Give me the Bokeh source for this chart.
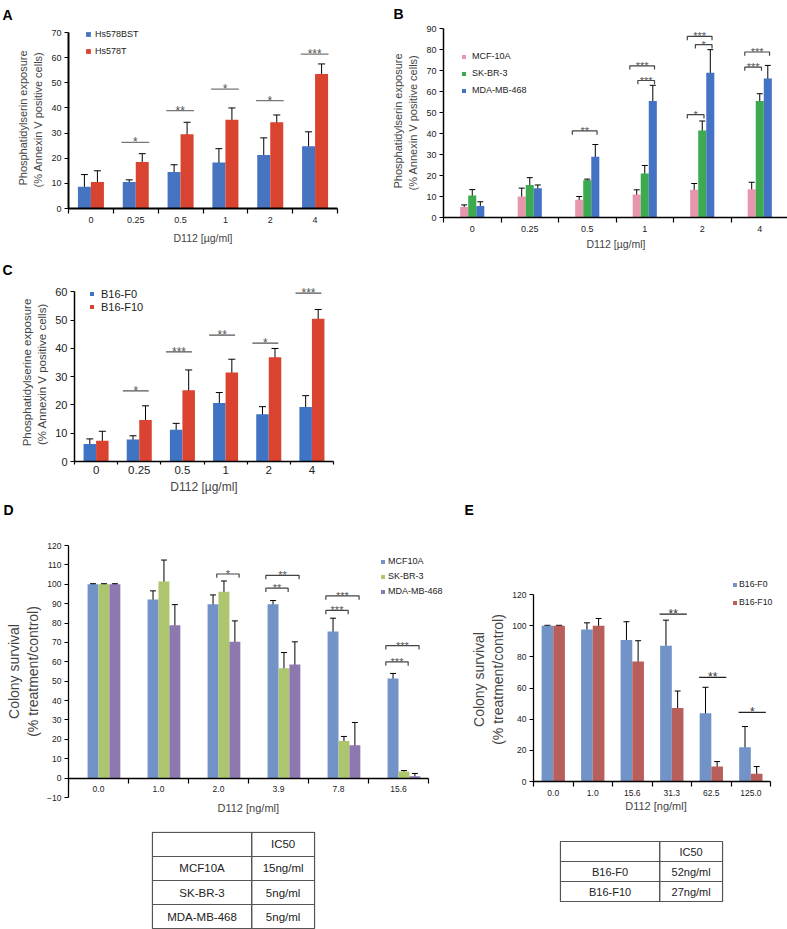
from bokeh.plotting import figure
from bokeh.models import (Range1d, FixedTicker, Whisker, TeeHead, ColumnDataSource,
                          Legend, LegendItem, Title)
from bokeh.layouts import column, row
from bokeh.embed import file_html
from bokeh.resources import INLINE
from bokeh.core.properties import value

FONT = "Liberation Sans"

# ---------------- data: panel A ----------------
a_doses = ["0", "0.25", "0.5", "1", "2", "4"]
a_names = ["Hs578BST", "Hs578T"]
a_hs578bst = [8.7, 10.5, 14.5, 18.3, 21.3, 24.8]
a_hs578bst_err = [4.8, 0.9, 2.9, 5.5, 6.8, 5.7]
a_hs578t = [10.5, 18.5, 29.5, 35.3, 34.3, 53.5]
a_hs578t_err = [4.5, 3.3, 4.8, 4.7, 2.9, 4.0]
a_sig_group = [1, 2, 3, 4, 5]
a_sig_text = ["*", "**", "*", "*", "***"]
a_sig_y = [26.3, 38.9, 47.5, 42.9, 61.4]

# ---------------- data: panel B ----------------
b_doses = ["0", "0.25", "0.5", "1", "2", "4"]
b_names = ["MCF-10A", "SK-BR-3", "MDA-MB-468"]
b_mcf10a = [5.0, 10.0, 8.5, 11.0, 13.2, 13.5]
b_mcf10a_err = [1.0, 4.0, 1.5, 2.2, 3.0, 3.3]
b_skbr3 = [10.5, 15.5, 17.8, 21.0, 41.5, 55.5]
b_skbr3_err = [2.8, 3.5, 0.5, 3.8, 4.5, 3.5]
b_mdamb468 = [5.5, 14.0, 29.0, 55.5, 69.0, 66.3]
b_mdamb468_err = [2.0, 1.5, 5.8, 7.5, 11.0, 6.2]
b_sig_group = [2, 3, 3, 4, 4, 4, 5, 5]
b_sig_from = [0, 0, 1, 0, 1, 0, 0, 0]
b_sig_to = [2, 2, 2, 2, 2, 1, 2, 1]
b_sig_text = ["**", "***", "***", "***", "*", "*", "***", "***"]
b_sig_y = [41.3, 72.3, 65.3, 86.3, 82.4, 49.0, 78.9, 71.7]

# ---------------- data: panel C ----------------
c_doses = ["0", "0.25", "0.5", "1", "2", "4"]
c_names = ["B16-F0", "B16-F10"]
c_f0 = [6.2, 7.8, 11.2, 20.7, 16.7, 19.3]
c_f0_err = [1.8, 1.3, 2.3, 3.7, 2.7, 4.0]
c_f10 = [7.3, 14.7, 25.2, 31.5, 36.9, 50.5]
c_f10_err = [3.4, 5.0, 7.2, 4.7, 3.1, 3.3]
c_sig_group = [1, 2, 3, 4, 5]
c_sig_text = ["*", "***", "**", "*", "***"]
c_sig_y = [25.0, 38.8, 44.7, 41.9, 59.6]

# ---------------- data: panel D ----------------
d_doses = ["0.0", "1.0", "2.0", "3.9", "7.8", "15.6"]
d_names = ["MCF10A", "SK-BR-3", "MDA-MB-468"]
d_mcf10a = [100, 92.1, 89.7, 89.7, 75.6, 51.4]
d_mcf10a_lo = [99.7, 87.6, 84.7, 87.6, 68.2, 48.8]
d_mcf10a_hi = [100.3, 96.6, 94.5, 91.6, 82.5, 54.0]
d_skbr3 = [100, 101.4, 96.2, 56.7, 19.2, 3.4]
d_skbr3_lo = [99.7, 90.2, 91.1, 48.5, 17.0, 2.7]
d_skbr3_hi = [100.3, 112.5, 101.7, 64.8, 21.5, 3.9]
d_mdamb468 = [100, 78.9, 70.3, 58.6, 17.0, 0.9]
d_mdamb468_lo = [99.7, 68.2, 59.1, 47.1, 5.5, -0.2]
d_mdamb468_hi = [100.3, 89.5, 81.1, 70.3, 28.7, 2.4]
d_sig_group = [2, 3, 3, 4, 4, 5, 5]
d_sig_from = [1, 0, 0, 0, 0, 0, 0]
d_sig_to = [2, 2, 1, 2, 1, 2, 1]
d_sig_text = ["*", "**", "**", "***", "***", "***", "***"]
d_sig_y = [105.3, 104.6, 98.0, 94.0, 86.5, 68.3, 60.0]
d_table_cells = ["MCF10A", "SK-BR-3", "MDA-MB-468"]
d_table_ic50 = ["15ng/ml", "5ng/ml", "5ng/ml"]

# ---------------- data: panel E ----------------
e_doses = ["0.0", "1.0", "15.6", "31.3", "62.5", "125.0"]
e_names = ["B16-F0", "B16-F10"]
e_f0 = [100, 97.6, 90.8, 87.2, 43.8, 22.0]
e_f0_lo = [99.7, 92.5, 78.4, 76.3, 41.7, 18.2]
e_f0_hi = [100.3, 101.9, 102.6, 103.6, 60.5, 35.3]
e_f10 = [100, 100, 77.1, 47.2, 9.6, 4.9]
e_f10_lo = [99.7, 95.1, 64.7, 36.1, 6.4, 0.6]
e_f10_hi = [100.3, 104.7, 90.4, 58.1, 12.8, 9.6]
e_sig_group = [3, 4, 5]
e_sig_text = ["**", "**", "*"]
e_sig_y = [107.5, 66.9, 44.4]
e_table_cells = ["B16-F0", "B16-F10"]
e_table_ic50 = ["52ng/ml", "27ng/ml"]


# ---------------- helpers ----------------
def make_fig(n, yr, fw, fh, left, top, right, bottom, xmax=None):
    p = figure(frame_width=fw, frame_height=fh,
               min_border_left=left, min_border_top=top,
               min_border_right=right, min_border_bottom=bottom,
               x_range=Range1d(-0.5, (n - 0.5) if xmax is None else xmax),
               y_range=Range1d(*yr),
               output_backend="svg", toolbar_location=None, tools="")
    p.outline_line_color = None
    p.xgrid.visible = False
    p.ygrid.visible = False
    return p


def style_axes(p, doses, yticks, tick_fs, xtick_fs, axw, xlabel, xlab_fs, ylab1, ylab2, ylab_fs,
               xtick_out=5, xlabel_standoff=6, ylab_standoff=4, title_standoff=2,
               fixed_x=None, xlab_standoff_ticks=3):
    n = len(doses)
    xa = p.xaxis[0]
    xa.ticker = FixedTicker(ticks=list(range(n)), minor_ticks=[i - 0.5 for i in range(n + 1)])
    xa.major_label_overrides = {i: d for i, d in enumerate(doses)}
    xa.bounds = (-0.5, n - 0.5)
    xa.major_tick_line_color = None
    xa.major_tick_in = 0
    xa.major_tick_out = xtick_out
    xa.minor_tick_in = 0
    xa.minor_tick_out = xtick_out
    xa.minor_tick_line_color = "black"
    xa.minor_tick_line_width = 1.2
    xa.axis_line_width = axw
    xa.axis_line_color = "black"
    xa.major_label_text_font = FONT
    xa.major_label_text_font_size = xtick_fs
    xa.major_label_text_color = "#222222"
    xa.major_label_standoff = xlab_standoff_ticks
    if xlabel is not None:
        xa.axis_label = xlabel
        xa.axis_label_text_font = FONT
        xa.axis_label_text_font_size = xlab_fs
        xa.axis_label_text_font_style = "normal"
        xa.axis_label_standoff = xlabel_standoff
    if fixed_x is not None:
        xa.fixed_location = fixed_x

    ya = p.yaxis[0]
    ya.ticker = FixedTicker(ticks=yticks)
    ya.bounds = (yticks[0], yticks[-1])
    ya.minor_tick_line_color = None
    ya.major_tick_in = 0
    ya.major_tick_out = 4
    ya.major_tick_line_width = 1
    ya.axis_line_width = axw
    ya.axis_line_color = "black"
    ya.major_label_text_font = FONT
    ya.major_label_text_font_size = tick_fs
    ya.major_label_text_color = "#222222"
    ya.major_label_standoff = 3
    ya.axis_label = ylab2
    ya.axis_label_text_font = FONT
    ya.axis_label_text_font_size = ylab_fs
    ya.axis_label_text_font_style = "normal"
    ya.axis_label_standoff = ylab_standoff
    p.add_layout(Title(text=ylab1, align="center", text_font=FONT, text_font_size=ylab_fs,
                       text_font_style="normal", standoff=title_standoff), "left")


def add_bars(p, series, colors, offsets, width):
    rs = []
    for vals, col, off in zip(series, colors, offsets):
        src = ColumnDataSource(dict(x=[i + off for i in range(len(vals))], top=vals))
        rs.append(p.vbar(x="x", top="top", width=width, bottom=0, source=src,
                         fill_color=col, line_color=None))
    return rs


def add_err(p, offsets, lows, highs, cap):
    for off, lo, hi in zip(offsets, lows, highs):
        src = ColumnDataSource(dict(base=[i + off for i in range(len(lo))], lower=lo, upper=hi))
        p.add_layout(Whisker(base="base", lower="lower", upper="upper", source=src,
                             line_color="black", line_width=1,
                             upper_head=TeeHead(size=cap, line_color="black", line_width=1),
                             lower_head=TeeHead(size=cap, line_color="black", line_width=1)))


def add_lines(p, groups, texts, ys, x0off, x1off, color, fs, star_color):
    x0 = [g + x0off for g in groups]
    x1 = [g + x1off for g in groups]
    p.segment(x0=x0, y0=ys, x1=x1, y1=ys, line_color=color, line_width=1.2)
    p.text(x=[(a + b) / 2 for a, b in zip(x0, x1)], y=ys, text=texts, text_align="center",
           text_baseline="alphabetic", text_font=value(FONT), text_font_size=fs,
           text_color=star_color, y_offset=0)


def add_brackets(p, groups, frm, to, texts, ys, centers, lpad, rpad, drop, color, fs, star_color):
    xs, yss, mx = [], [], []
    for g, i, j, y in zip(groups, frm, to, ys):
        a = g + centers[i] - lpad
        b = g + centers[j] + rpad
        xs.append([a, a, b, b])
        yss.append([y - drop, y, y, y - drop])
        mx.append((a + b) / 2)
    p.multi_line(xs=xs, ys=yss, line_color=color, line_width=1.2)
    p.text(x=mx, y=ys, text=texts, text_align="center", text_baseline="alphabetic",
           text_font=value(FONT), text_font_size=fs, text_color=star_color, y_offset=0)


def add_legend(p, renderers, names, loc, fs, glyph, label_h, spacing, standoff):
    leg = Legend(items=[LegendItem(label=nm, renderers=[r]) for nm, r in zip(names, renderers)],
                 location=loc, label_text_font=FONT, label_text_font_size=fs,
                 label_text_color="#222222", glyph_width=glyph, glyph_height=glyph,
                 label_height=label_h, spacing=spacing, padding=0, margin=0,
                 label_standoff=standoff, border_line_color=None, background_fill_alpha=0)
    p.add_layout(leg)


def panel_letter(p, txt, offset, standoff):
    p.title.text = txt
    p.title.align = "left"
    p.title.vertical_align = "bottom"
    p.title.offset = offset
    p.title.standoff = standoff
    p.title.text_font = FONT
    p.title.text_font_size = "14px"
    p.title.text_font_style = "bold"
    p.title.text_color = "black"


def letter_holder(txt, left, right, top, offset):
    # an empty, axis-less strip whose only content is a panel letter
    p = figure(frame_width=1, frame_height=1, min_border_left=left, min_border_right=right,
               min_border_top=top, min_border_bottom=0,
               output_backend="svg", toolbar_location=None, tools="")
    p.axis.visible = False
    p.xgrid.visible = False
    p.ygrid.visible = False
    p.outline_line_color = None
    panel_letter(p, txt, offset, 0)
    return p


def make_table(names, vals, fw, fh, left, right, fs, pad):
    n = len(names) + 1
    p = figure(frame_width=fw, frame_height=fh, min_border_left=left, min_border_right=right,
               min_border_top=0, min_border_bottom=0,
               x_range=Range1d(-0.012, 1.012), y_range=Range1d(-pad, n + pad),
               output_backend="svg", toolbar_location=None, tools="")
    p.xaxis.visible = False
    p.yaxis.visible = False
    p.xgrid.visible = False
    p.ygrid.visible = False
    p.outline_line_color = None
    split = 0.612
    cx, cy, cw = [], [], []
    for r in range(n):
        yc = n - r - 0.5
        cx += [split / 2, (1 + split) / 2]
        cy += [yc, yc]
        cw += [split, 1 - split]
    p.rect(x=cx, y=cy, width=cw, height=1, fill_color=None, line_color="#555555", line_width=1.2)
    tx = [(1 + split) / 2] + [split / 2] * len(names) + [(1 + split) / 2] * len(vals)
    ty = [n - 0.5] + [n - r - 1.5 for r in range(len(names))] + [n - r - 1.5 for r in range(len(vals))]
    tt = ["IC50"] + names + vals
    p.text(x=tx, y=ty, text=tt, text_align="center", text_baseline="middle",
           text_font=value(FONT), text_font_size=fs, text_color="#222222")
    return p


YLAB_A1 = "Phosphatidylserin exposure"
YLAB_A2 = "(% Annexin V  positive cells)"

# ---------------- Panel A ----------------
pa = make_fig(6, (0, 72), 269, 181, 68, 26, 51, 45)
style_axes(pa, a_doses, list(range(0, 71, 10)), "9px", "9px", 2, "D112 [µg/ml]", "10.5px",
           YLAB_A1, YLAB_A2, "11px")
a_off = [-0.145, 0.145]
ra = add_bars(pa, [a_hs578bst, a_hs578t], ["#4774c0", "#d94430"], a_off, 0.29)
add_err(pa, a_off,
        [[v - e for v, e in zip(a_hs578bst, a_hs578bst_err)], [v - e for v, e in zip(a_hs578t, a_hs578t_err)]],
        [[v + e for v, e in zip(a_hs578bst, a_hs578bst_err)], [v + e for v, e in zip(a_hs578t, a_hs578t_err)]],
        7)
add_lines(pa, a_sig_group, a_sig_text, a_sig_y, -0.32, 0.30, "#777777", "12px", "#555555")
add_legend(pa, ra, a_names, (17, 151), "9px", 6, 12, 5, 4)
panel_letter(pa, "A", -66, 9)

# ---------------- Panel B ----------------
pb = make_fig(6, (0, 92), 345, 193, 52, 23, 2, 36)
style_axes(pb, b_doses, list(range(0, 91, 10)), "9px", "9px", 1.5, "D112 [µg/ml]", "10.5px",
           YLAB_A1, YLAB_A2, "11px", xtick_out=5, xlabel_standoff=3)
b_off = [-0.14, 0.0, 0.14]
rb = add_bars(pb, [b_mcf10a, b_skbr3, b_mdamb468], ["#e797ad", "#3daa4f", "#4472c4"], b_off, 0.14)
b_ser = [(b_mcf10a, b_mcf10a_err), (b_skbr3, b_skbr3_err), (b_mdamb468, b_mdamb468_err)]
add_err(pb, b_off,
        [[v - e for v, e in zip(s, er)] for s, er in b_ser],
        [[v + e for v, e in zip(s, er)] for s, er in b_ser], 6)
add_brackets(pb, b_sig_group, b_sig_from, b_sig_to, b_sig_text, b_sig_y, b_off, 0.12, 0.03, 1.8,
             "#444444", "11px", "#555555")
add_legend(pb, rb, b_names, (18, 121), "9px", 5, 12, 5, 6)
panel_letter(pb, "B", -50, 6)

# ---------------- Panel C ----------------
pc = make_fig(6, (0, 63), 259, 178, 74, 29, 55, 36)
style_axes(pc, c_doses, list(range(0, 61, 10)), "11px", "11.5px", 1.5, "D112 [µg/ml]", "12px",
           "Phosphatidylserine exposure", YLAB_A2, "11.5px", xtick_out=3, xlabel_standoff=3,
           xlab_standoff_ticks=1)
c_off = [-0.145, 0.145]
rc = add_bars(pc, [c_f0, c_f10], ["#3f73c4", "#d9432f"], c_off, 0.29)
add_err(pc, c_off,
        [[v - e for v, e in zip(c_f0, c_f0_err)], [v - e for v, e in zip(c_f10, c_f10_err)]],
        [[v + e for v, e in zip(c_f0, c_f0_err)], [v + e for v, e in zip(c_f10, c_f10_err)]], 7)
add_lines(pc, c_sig_group, c_sig_text, c_sig_y, -0.38, 0.22, "#555555", "12px", "#555555")
add_legend(pc, rc, c_names, (15, 148), "11px", 5, 13, 0, 7)
panel_letter(pc, "C", -72, 12)

# strip with the "D" and "E" panel letters
lab_d = letter_holder("D", 3, 384, 20, 0)
lab_e = letter_holder("E", 82, 316, 20, -6)

# ---------------- Panel D ----------------
pd_ = make_fig(6, (-10, 120), 393, 252, 68, 27, 7, 34, xmax=6.05)
style_axes(pd_, d_doses, list(range(-10, 121, 10)), "8.5px", "8.5px", 1.3, None, "11px",
           "Colony survival", "(% treatment/control)", "14px", xtick_out=5,
           ylab_standoff=3, title_standoff=1, fixed_x=0)
pd_.add_layout(Title(text="D112 [ng/ml]", align="left", offset=149, text_font=FONT,
                     text_font_size="11px", text_font_style="normal", standoff=4), "below")
d_w = 0.182
d_off = [-0.5 * d_w, 0.5 * d_w, 1.5 * d_w]
rd = add_bars(pd_, [d_mcf10a, d_skbr3, d_mdamb468], ["#7193c7", "#adc56c", "#8e78b0"], d_off, d_w)
add_err(pd_, d_off, [d_mcf10a_lo, d_skbr3_lo, d_mdamb468_lo], [d_mcf10a_hi, d_skbr3_hi, d_mdamb468_hi], 6)
add_brackets(pd_, d_sig_group, d_sig_from, d_sig_to, d_sig_text, d_sig_y, d_off, 0.12, 0.07, 2.0,
             "#444444", "11px", "#555555")
add_legend(pd_, rd, d_names, (312, 200), "9px", 5, 12, 3, 3)

td = make_table(d_table_cells, d_table_ic50, 166, 98, 150, 152, "11.5px", 0.04)

# ---------------- Panel E ----------------
pe = make_fig(6, (0, 131), 245, 204, 55, 59, 19, 59, xmax=5.7)
style_axes(pe, e_doses, list(range(0, 121, 20)), "8.5px", "8.5px", 1.3, "D112 [ng/ml]", "11px",
           "Colony survival", "(% treatment/control)", "14px", xtick_out=5, xlabel_standoff=1,
           ylab_standoff=3, title_standoff=1)
e_w = 0.295
e_off = [-0.5 * e_w, 0.5 * e_w]
re_ = add_bars(pe, [e_f0, e_f10], ["#7193c7", "#b95f5b"], e_off, e_w)
add_err(pe, e_off, [e_f0_lo, e_f10_lo], [e_f0_hi, e_f10_hi], 6)
add_lines(pe, e_sig_group, e_sig_text, e_sig_y, -0.31, 0.38, "#222222", "12px", "#333333")
add_legend(pe, re_, e_names, (199, 173), "8.7px", 5, 12, 6, 2)

te = make_table(e_table_cells, e_table_ic50, 166, 62, 90, 63, "11px", 0.05)

layout = column(row(row(pa), row(pb)),
                row(pc),
                row(row(lab_d), row(lab_e)),
                row(column(row(pd_), row(td)), column(row(pe), row(te))))

open("out.html", "w").write(file_html(layout, INLINE))
